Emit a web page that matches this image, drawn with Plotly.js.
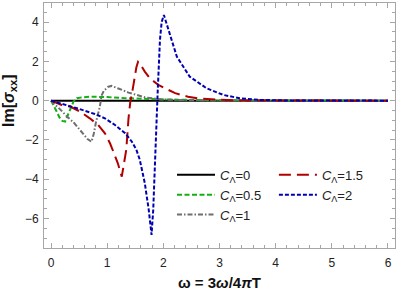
<!DOCTYPE html>
<html>
<head>
<meta charset="utf-8">
<script src="https://cdn.plot.ly/plotly-3.0.1.min.js"></script>
<style>html,body{margin:0;padding:0;background:#fff;}#chart{width:399px;height:293px;}</style>
</head>
<body>
<div id="chart"></div>
<script>
// ---- data ----
const seriesNames = ['<i>C</i><sub>Λ</sub>=0', '<i>C</i><sub>Λ</sub>=0.5', '<i>C</i><sub>Λ</sub>=1', '<i>C</i><sub>Λ</sub>=1.5', '<i>C</i><sub>Λ</sub>=2'];

const x0 = [0, 6];
const y0 = [0, 0];

const x05 = [0, 0.05, 0.1, 0.15, 0.2, 0.25, 0.3, 0.35, 0.4, 0.46, 0.55, 0.69, 0.85, 1.0, 1.29, 1.52, 2.0, 2.65, 3.5, 6];
const y05 = [0, -0.25, -0.55, -0.85, -1.03, -1.07, -0.75, -0.35, -0.05, 0.12, 0.17, 0.2, 0.2, 0.18, 0.13, 0.1, 0.06, 0.03, 0.01, 0];

const x1 = [0, 0.07, 0.13, 0.22, 0.3, 0.4, 0.5, 0.55, 0.65, 0.72, 0.76, 0.8, 0.84, 0.87, 0.9, 0.94, 1.02, 1.08, 1.2, 1.38, 1.67, 1.97, 2.5, 3.2, 6];
const y1 = [0, -0.22, -0.35, -0.64, -0.85, -1.1, -1.45, -1.66, -1.95, -2.09, -1.7, -1.1, -0.6, -0.3, 0.25, 0.5, 0.71, 0.75, 0.62, 0.41, 0.17, 0.06, 0.02, 0.005, 0];

const x15 = [0, 0.1, 0.19, 0.34, 0.52, 0.69, 0.84, 0.96, 1.05, 1.11, 1.19, 1.26, 1.3, 1.34, 1.38, 1.41, 1.45, 1.49, 1.52, 1.55, 1.58, 1.67, 1.76, 1.91, 2.09, 2.21, 2.44, 2.62, 2.86, 3.04, 3.3, 4.0, 6];
const y15 = [0, -0.1, -0.22, -0.3, -0.56, -0.9, -1.24, -1.66, -2.17, -2.6, -3.19, -3.87, -3.2, -2.5, -0.9, -0.1, 0.5, 1.22, 1.7, 1.98, 1.9, 1.48, 1.14, 0.8, 0.54, 0.38, 0.2, 0.11, 0.07, 0.04, 0.015, 0.003, 0];

const x2 = [0, 0.28, 0.5, 0.78, 0.96, 1.14, 1.32, 1.44, 1.52, 1.58, 1.67, 1.74, 1.79, 1.82, 1.85, 1.88, 1.9, 1.94, 1.97, 2.01, 2.05, 2.12, 2.24, 2.47, 2.77, 3.07, 3.36, 3.7, 4.2, 6];
const y2 = [0, -0.22, -0.42, -0.68, -0.9, -1.24, -1.66, -2.09, -2.5, -3.0, -4.2, -5.56, -6.83, -5.56, -3.0, -0.47, 0.5, 3.1, 4.0, 4.36, 4.0, 3.26, 2.24, 1.22, 0.63, 0.29, 0.12, 0.04, 0.01, 0];

const xTicks = [0, 1, 2, 3, 4, 5, 6];
const yTicks = [-6, -4, -2, 0, 2, 4];

// ---- styles ----
const colors = ['#000000', 'rgb(20,175,20)', 'rgb(110,110,110)', 'rgb(178,0,0)', 'rgb(0,0,178)'];
const dashes = ['solid', '5px,2.5px', '5px,2px,1.5px,2px', '12px,6px', '4px,2px'];
const xs = [x0, x05, x1, x15, x2];
const ys = [y0, y05, y1, y15, y2];
const legendOf = ['legend', 'legend', 'legend', 'legend2', 'legend2'];

const traces = xs.map((xv, i) => ({
  x: xv, y: ys[i], type: 'scatter', mode: 'lines',
  name: seriesNames[i],
  legend: legendOf[i],
  legendgroup: 'g' + i,
  line: {color: colors[i], width: 2, dash: dashes[i]}
}));

const axisCommon = {
  showline: true, linecolor: '#a6a6a6', linewidth: 1, mirror: 'ticks',
  ticks: 'inside', ticklen: 5, tickcolor: '#a6a6a6', tickwidth: 1,
  showgrid: false, zeroline: false,
  tickfont: {family: 'Liberation Sans, Arial, sans-serif', size: 12, color: '#222'}
};

const legendFont = {family: 'Liberation Sans, Arial, sans-serif', size: 13, color: '#222'};

const layout = {
  width: 399, height: 293,
  margin: {l: 44, r: 4, t: 3, b: 45},
  paper_bgcolor: '#fff', plot_bgcolor: '#fff',
  showlegend: true,
  xaxis: Object.assign({}, axisCommon, {
    range: [-0.125, 6.125], tickvals: xTicks, ticktext: xTicks.map(String),
    minor: {dtick: 0.2, ticks: 'inside', ticklen: 3, tickcolor: '#a6a6a6'},
    ticklabelstandoff: 4,
    title: {text: '<b>ω = 3<i>ω</i>/4<i>π</i>T</b>', font: {family: 'Liberation Sans, Arial, sans-serif', size: 15, color: '#111'}, standoff: 8}
  }),
  yaxis: Object.assign({}, axisCommon, {
    range: [-7.5, 4.97], tickvals: yTicks, ticktext: yTicks.map(v => v < 0 ? '−' + Math.abs(v) : String(v)),
    minor: {dtick: 0.5, ticks: 'inside', ticklen: 3, tickcolor: '#a6a6a6'},
    ticklabelstandoff: 2
  }),
  annotations: [{
    text: '<b>Im[<i>σ</i><sub>xx</sub>]</b>', textangle: -90,
    xref: 'paper', yref: 'paper', x: -0.1, y: 0.6, xanchor: 'center', yanchor: 'middle',
    showarrow: false, font: {family: 'Liberation Sans, Arial, sans-serif', size: 16, color: '#111'}
  }],
  legend: {x: 0.3647, y: 0.36, xanchor: 'left', yanchor: 'top', bgcolor: 'rgba(0,0,0,0)',
    font: legendFont, tracegroupgap: 8.5, itemwidth: 38, traceorder: 'normal'},
  legend2: {x: 0.655, y: 0.36, xanchor: 'left', yanchor: 'top', bgcolor: 'rgba(0,0,0,0)',
    font: legendFont, tracegroupgap: 8.5, itemwidth: 38, traceorder: 'normal'}
};

Plotly.newPlot('chart', traces, layout, {displayModeBar: false, staticPlot: true});
</script>
</body>
</html>
